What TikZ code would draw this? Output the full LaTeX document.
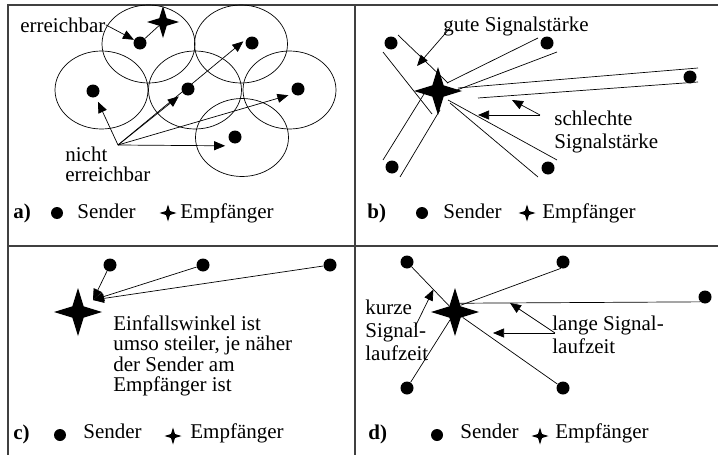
\documentclass[tikz,border=0pt]{standalone}
\usepackage{fontspec}
\setmainfont{Liberation Serif}
\usetikzlibrary{shapes.geometric,arrows.meta,calc}

\begin{document}
\begin{tikzpicture}[x=1pt,y=-1pt,line width=0.7pt,
  font=\fontsize{21}{23}\selectfont,
  sender/.style={circle,fill,inner sep=0pt,minimum size=13pt},
  ksender/.style={circle,fill,inner sep=0pt,minimum size=12pt},
  empf/.style={star,star points=4,star point ratio=3,fill,inner sep=0pt,minimum size=48pt},
  kempf/.style={empf,minimum size=17pt},
  txt/.style={anchor=base west,inner sep=0pt,align=left},
  fett/.style={txt,font=\bfseries\fontsize{21}{23}\selectfont},
  pfeil/.style={-{Triangle[length=11pt,width=9pt]}}]
  \useasboundingbox (0,0) rectangle (718,455);
  \draw[line width=1.4pt,black!75] (8,455) -- (8,5) -- (718,5);
  \draw[line width=1.4pt,black!75] (355,5) -- (355,455);
  \draw[line width=1.4pt,black!75] (8,246) -- (718,246);

  % a)
  \draw (148.5,44) ellipse [x radius=46.5,y radius=39];
  \draw (241,44) ellipse [x radius=46.5,y radius=39];
  \draw (101.5,90) ellipse [x radius=46.5,y radius=39];
  \draw (195,90) ellipse [x radius=46.5,y radius=39];
  \draw (289.5,90) ellipse [x radius=46.5,y radius=39];
  \draw (242,137.5) ellipse [x radius=46.5,y radius=39];

  \node[sender] (a1) at (140,43) {};
  \node[sender] (a2) at (252,43) {};
  \node[sender] (a3) at (93,91) {};
  \node[sender] (a4) at (188,89) {};
  \node[sender] (a5) at (298,89) {};
  \node[sender] (a6) at (235,137) {};
  \node[empf,minimum size=32pt] (ea) at (163,22) {};
  \draw (a1) -- (ea);

  \node[txt] (er) at (20,32) {erreichbar};
  \draw[pfeil] (er.east) -- (a1);
  \node[txt,font=\fontsize{21}{20}\selectfont] (ner) at (65,181) {nicht\\erreichbar};
  \coordinate (ne) at (118,145);
  \draw[pfeil,shorten >=5pt] (ne) -- (a3);
  \draw[pfeil,shorten >=5pt] (ne) -- (a4);
  \draw[pfeil,shorten >=5pt] (ne) -- (a2.north west);
  \draw[pfeil,shorten >=5pt] (ne) -- (a5.south west);
  \draw[pfeil,shorten >=5pt] (ne) -- ([yshift=-4pt]a6.south west);

  \node[fett] (la) at (13,218) {a)};
  \node[ksender] (lsa) at (57,213) {};
  \node[txt] (tsa) at (77,218) {Sender};
  \node[kempf] (lea) at (168,213) {};
  \node[txt] (tea) at (180,218) {Empfänger};

  % b)
  \node[sender] (b1) at (391,43) {};
  \node[sender] (b2) at (547,43) {};
  \node[sender] (b3) at (690,77) {};
  \node[sender] (b4) at (392,167) {};
  \node[sender] (b5) at (548,168) {};
  \node[empf] (eb) at (438,91) {};

  \draw (398,35) -- (448,83);
  \draw (383,52) -- (432,114);
  \draw (538,38) -- (447,83);
  \draw (557,52) -- (457,90);
  \draw (698,68) -- (458,88);
  \draw (698,82) -- (478,98);
  \draw (383,160) -- (424,94);
  \draw (400,177) -- (440,110);
  \draw (557,160) -- (448,100);
  \draw (538,177) -- (450,103);

  \node[txt] (gut) at (443,31) {gute Signalstärke};
  \coordinate (gz) at (417,66);
  \draw[pfeil] ([shift={(7,-3)}]gut.base west) -- (gz);
  \node[txt] (sch) at (554,148) {schlechte\\Signalstärke};
  \coordinate (s0) at (540,115);
  \coordinate (s1) at (478,115);
  \coordinate (s2) at (512,100);
  \draw[pfeil] (s0) -- (s1);
  \draw[pfeil] (s0) -- (s2);

  \node[fett] (lb) at (367,218) {b)};
  \node[ksender] (lsb) at (422,213) {};
  \node[txt] (tsb) at (443,218) {Sender};
  \node[kempf] (leb) at (527,213) {};
  \node[txt] (teb) at (542,218) {Empfänger};

  % c)
  \node[sender] (c1) at (110,265) {};
  \node[sender] (c2) at (203,265) {};
  \node[sender] (c3) at (330,265) {};
  \node[empf] (ec) at (78,312) {};
  \coordinate (cz) at (93,300);
  \draw[pfeil] (c1) -- (cz);
  \draw[pfeil] (c2) -- (cz);
  \draw[pfeil] (c3) -- (cz);
  \node[txt,font=\fontsize{21}{20.5}\selectfont] (ein) at (113,391.5)
    {Einfallswinkel ist\\umso steiler, je näher\\der Sender am\\Empfänger ist};

  \node[fett] (lc) at (13,439) {c)};
  \node[ksender] (lsc) at (60,435) {};
  \node[txt] (tsc) at (83,438) {Sender};
  \node[kempf] (lec) at (173,436) {};
  \node[txt] (tec) at (190,438) {Empfänger};

  % d)
  \node[sender] (d1) at (407,262) {};
  \node[sender] (d2) at (563,262) {};
  \node[sender] (d3) at (705,297) {};
  \node[sender] (d4) at (407,388) {};
  \node[sender] (d5) at (563,388) {};
  \node[empf] (ed) at (455,312) {};
  \draw (d1) -- (ed);
  \draw (d2.250) -- (ed.50);
  \draw (d3.225) -- (ed.60);
  \draw (d4) -- (ed);
  \draw (d5) -- (ed);

  \node[txt] (kz) at (365,360) {kurze\\Signal-\\laufzeit};
  \coordinate (k0) at (415,327);
  \draw[pfeil] (k0) -- ($(d1)!0.55!(ed)$);
  \node[txt] (lg) at (552,353) {lange Signal-\\laufzeit};
  \coordinate (l0) at (555,333);
  \coordinate (l1) at (493,333);
  \coordinate (l2) at (510,303);
  \draw[pfeil] (l0) -- (l1);
  \draw[pfeil] (l0) -- (l2);

  \node[fett] (ld) at (368,439) {d)};
  \node[ksender] (lsd) at (437,435) {};
  \node[txt] (tsd) at (460,438) {Sender};
  \node[kempf] (led) at (540,436) {};
  \node[txt] (ted) at (555,438) {Empfänger};
\end{tikzpicture}
\end{document}
